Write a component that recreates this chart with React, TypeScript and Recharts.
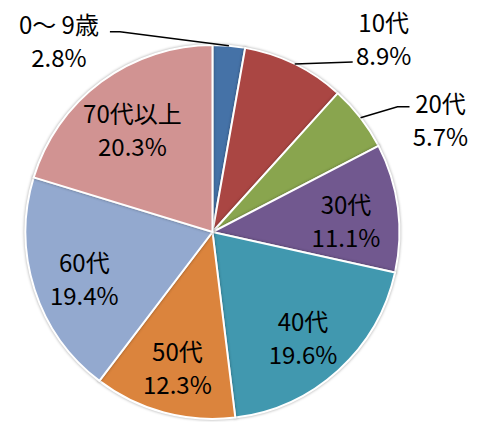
import React from 'react';
import { PieChart, Pie, Cell } from 'recharts';

const categories = ['0〜 9歳', '10代', '20代', '30代', '40代', '50代', '60代', '70代以上'];
const shares = [2.8, 8.9, 5.7, 11.1, 19.6, 12.3, 19.4, 20.3];

const COLORS = ['#4572A7', '#AA4643', '#89A54E', '#71588F', '#4198AF', '#DB843D', '#93A9CF', '#D19392'];

const data = categories.map((name, i) => ({ name, value: shares[i] }));

const RAD = Math.PI / 180;
const FONT = '"Noto Sans CJK JP", "Noto Sans", sans-serif';
const FONT_SIZE = 24;
const LINE_GAP = 33;

// Outside-label layout (relative to the slice's outer-edge midpoint) for the three small slices.
const outsideLayout: Record<number, { text: [number, number]; path: [number, number][] }> = {
  0: { text: [-170, -6], path: [[-109, -14], [-119, -14]] },
  1: { text: [89, -26], path: [[58, -2]] },
  2: { text: [80, 1], path: [[37, -11], [49, -11]] },
};

const renderLabel = (props: any) => {
  const { cx, cy, midAngle, outerRadius, index, name, value } = props;
  const cos = Math.cos(-midAngle * RAD);
  const sin = Math.sin(-midAngle * RAD);
  const pct = `${Number(value).toFixed(1)}%`;
  const lay = outsideLayout[index];
  let tx: number;
  let ty: number;
  let line: React.ReactNode = null;
  if (lay) {
    const ex = cx + outerRadius * cos;
    const ey = cy + outerRadius * sin;
    tx = ex + lay.text[0];
    ty = ey + lay.text[1];
    const pts = [[ex, ey], ...lay.path.map(([dx, dy]) => [ex + dx, ey + dy])];
    const d = pts.map((p, k) => `${k === 0 ? 'M' : 'L'}${p[0]},${p[1]}`).join(' ');
    line = <path d={d} stroke="#000" strokeWidth={1.4} fill="none" />;
  } else {
    const r = outerRadius * 0.72;
    tx = cx + r * cos;
    ty = cy + r * sin + 5;
  }
  return (
    <g key={`lbl-${index}`}>
      {line}
      <text
        x={tx}
        y={ty - LINE_GAP / 2}
        textAnchor="middle"
        dominantBaseline="central"
        fill="#000"
        style={{ fontFamily: FONT, fontSize: FONT_SIZE }}
      >
        {name}
      </text>
      <text
        x={tx}
        y={ty + LINE_GAP / 2}
        textAnchor="middle"
        dominantBaseline="central"
        fill="#000"
        style={{ fontFamily: FONT, fontSize: FONT_SIZE }}
      >
        {pct}
      </text>
    </g>
  );
};

export default function App() {
  return (
    <div style={{ position: 'absolute', left: 0, top: 0, width: 477, height: 422, background: '#fff' }}>
      <PieChart width={477} height={422} margin={{ top: 0, right: 0, bottom: 0, left: 0 }}>
        <Pie
          data={data}
          dataKey="value"
          nameKey="name"
          cx={212.5}
          cy={232}
          outerRadius={187}
          startAngle={90}
          endAngle={-270}
          stroke="#ffffff"
          strokeWidth={2}
          label={renderLabel}
          labelLine={false}
          isAnimationActive={false}
          style={{ filter: 'drop-shadow(0px 0px 1.5px rgba(0,0,0,0.35))' }}
        >
          {data.map((d, i) => (
            <Cell key={d.name} fill={COLORS[i]} />
          ))}
        </Pie>
      </PieChart>
    </div>
  );
}
